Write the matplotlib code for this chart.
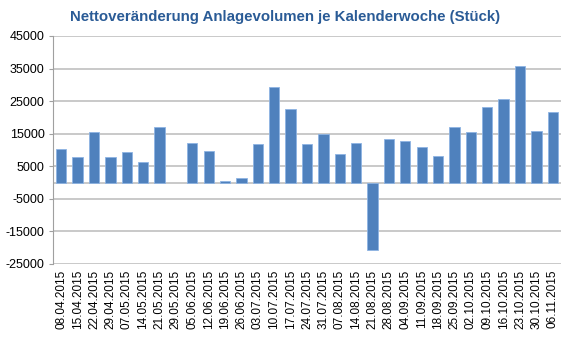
import matplotlib
matplotlib.use("Agg")
import matplotlib.pyplot as plt

plt.rcParams["font.family"] = ["Liberation Sans", "DejaVu Sans"]

# ── data: weekly net change ──
WEEKS = ["08.04.2015", "15.04.2015", "22.04.2015", "29.04.2015", "07.05.2015",
         "14.05.2015", "21.05.2015", "29.05.2015", "05.06.2015", "12.06.2015",
         "19.06.2015", "26.06.2015", "03.07.2015", "10.07.2015", "17.07.2015",
         "24.07.2015", "31.07.2015", "07.08.2015", "14.08.2015", "21.08.2015",
         "28.08.2015", "04.09.2015", "11.09.2015", "18.09.2015", "25.09.2015",
         "02.10.2015", "09.10.2015", "16.10.2015", "23.10.2015", "30.10.2015",
         "06.11.2015"]
VALUES = [10400, 7960, 15400, 7960, 9280,
          6430, 17030, 0, 12140, 9590,
          610, 1530, 11730, 29480, 22640,
          11930, 14890, 8870, 12140, -20800,
          13460, 12850, 11020, 8260, 17140,
          15600, 23260, 25800, 35800, 15810,
          21620]
YTICKS = [-25000, -15000, -5000, 5000, 15000, 25000, 35000, 45000]

TITLE = "Nettoveränderung Anlagevolumen je Kalenderwoche (Stück)"

fig = plt.figure(figsize=(5.7, 3.37), dpi=100)
ax = fig.add_axes([53/570, 1 - 264/337, (561-53)/570, (264-36)/337])

xs = list(range(len(WEEKS)))
# no outline on empty weeks
lws = [0.6 if v != 0 else 0 for v in VALUES]
ax.bar(xs, VALUES, width=0.63, color="#4F81BD", edgecolor="#8EB4E3",
       linewidth=lws, zorder=3)

ax.set_xlim(-0.5, len(WEEKS) - 0.5)
ax.set_ylim(-25000, 45000)
ax.set_yticks(YTICKS)
ax.set_yticklabels([str(t) for t in YTICKS], fontsize=9)
ax.set_xticks(xs)
ax.set_xticklabels(WEEKS, rotation=90, fontsize=8.5)

# grid and the zero line
ax.grid(True, axis="y", color="#C0C0C0", linewidth=1.2, zorder=0)
ax.axhline(0, color="#C0C0C0", linewidth=1.2, zorder=1)

for s in ("top", "right", "bottom"):
    ax.spines[s].set_visible(False)
ax.spines["left"].set_color("#A0A0A0")
ax.tick_params(axis="y", length=3, color="#A0A0A0", pad=3)
ax.tick_params(axis="x", length=0, pad=4)

fig.text(285/570, 1 - 17/337, TITLE, ha="center", va="center",
         fontsize=10.8, fontweight="bold", color="#2A5B96")

fig.savefig("out.png", dpi=100)
